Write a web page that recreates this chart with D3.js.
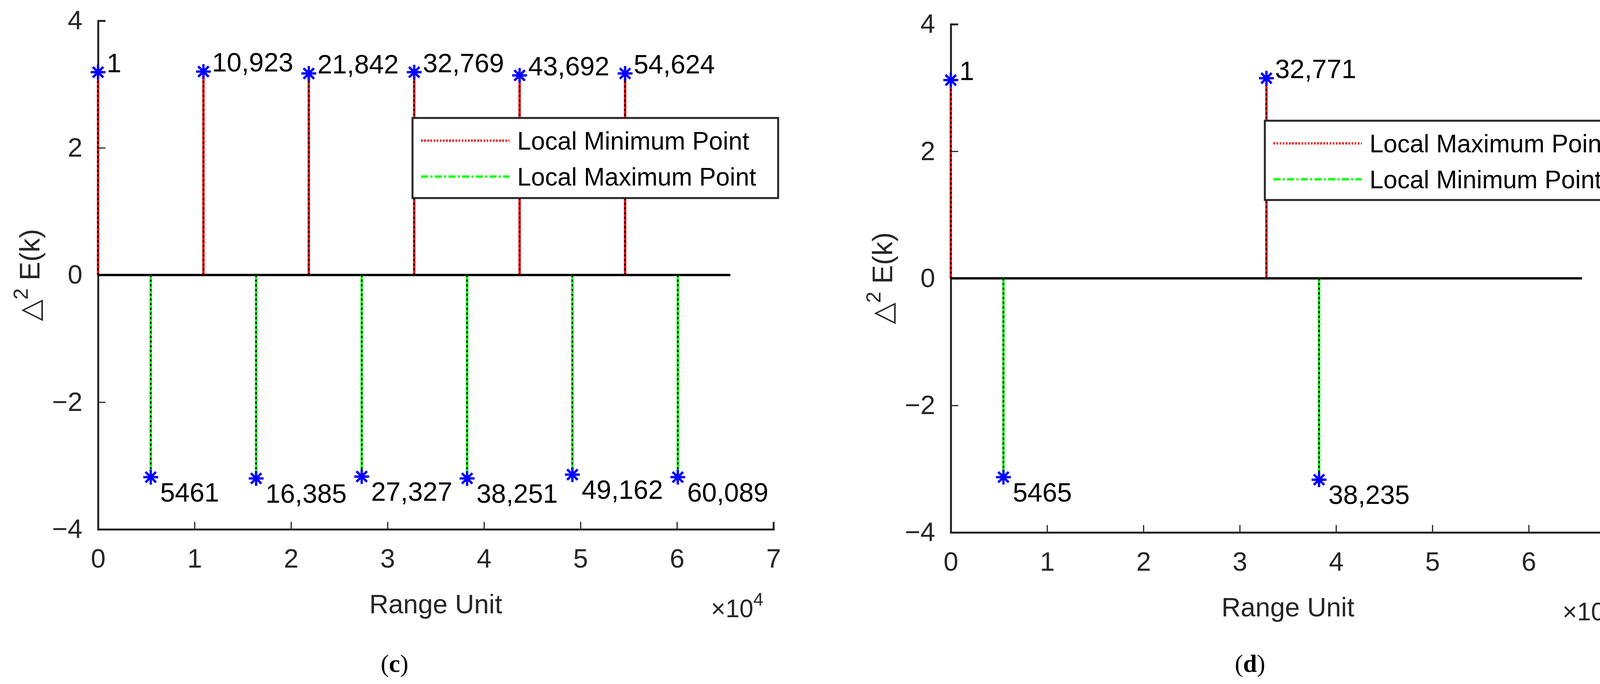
<!DOCTYPE html>
<html>
<head>
<meta charset="utf-8">
<script src="https://cdn.jsdelivr.net/npm/d3@7/dist/d3.min.js"></script>
<style>
  html, body { margin: 0; padding: 0; background: #fff; overflow: hidden; }
  svg { display: block; }
  text { font-family: "Liberation Sans", Arial, sans-serif; }
</style>
</head>
<body>
<svg id="chart" width="4188" height="1751" viewBox="0 0 4188 1751"></svg>
<script>
// panel (c)
var cPeakX = [1, 10923, 21842, 32769, 43692, 54624];
var cPeakY = [3.19, 3.2, 3.17, 3.19, 3.14, 3.17];
var cValleyX = [5461, 16385, 27327, 38251, 49162, 60089];
var cValleyY = [-3.18, -3.2, -3.17, -3.2, -3.14, -3.18];
var cLegend = ["Local Minimum Point", "Local Maximum Point"];

// panel (d)
var dPeakX = [1, 32771];
var dPeakY = [3.12, 3.15];
var dValleyX = [5465, 38235];
var dValleyY = [-3.13, -3.17];
var dLegend = ["Local Maximum Point", "Local Minimum Point"];

var xTicks = [0, 1, 2, 3, 4, 5, 6, 7];
var yTicks = [-4, -2, 0, 2, 4];
var baseEnd = 65536;

var svg = d3.select("#chart");
var fmt = d3.format(",");
function label(v) { return v < 10000 ? String(v) : fmt(v); }

function drawPanel(opt) {
    var x = d3.scaleLinear().domain([0, 7e4]).range([opt.left, opt.right]);
    var y = d3.scaleLinear().domain([-4, 4]).range([opt.bottom, opt.top]);
    var g = svg.append("g");

    // axes
    var yAxis = d3.axisLeft(y).tickValues(yTicks).tickSize(-19).tickPadding(40)
        .tickFormat(function(d) { return d < 0 ? "\u2212" + (-d) : d; });
    var xAxis = d3.axisBottom(x).tickValues(xTicks.map(function(d) { return d * 1e4; }))
        .tickSize(-19).tickPadding(50).tickFormat(function(d) { return d / 1e4; });
    [[yAxis, "translate(" + opt.left + ",0)"], [xAxis, "translate(0," + opt.bottom + ")"]].forEach(function(a) {
        var ax = g.append("g").attr("transform", a[1]).call(a[0]);
        ax.select(".domain").attr("stroke", "#262626").attr("stroke-width", 5);
        ax.selectAll(".tick line").attr("stroke", "#262626").attr("stroke-width", 3);
        ax.selectAll(".tick text").attr("fill", "#262626").style("font-size", "68px")
            .style("font-family", "Liberation Sans, Arial, sans-serif");
    });

    // baseline
    g.append("line").attr("x1", x(0)).attr("x2", x(baseEnd))
        .attr("y1", y(0)).attr("y2", y(0)).attr("stroke", "#000").attr("stroke-width", 6);

    function stems(xs, ys, color) {
        xs.forEach(function(v, i) {
            g.append("line").attr("x1", x(v)).attr("x2", x(v)).attr("y1", y(0)).attr("y2", y(ys[i]))
                .attr("stroke", color).attr("stroke-width", 6);
            g.append("line").attr("x1", x(v)).attr("x2", x(v)).attr("y1", y(0)).attr("y2", y(ys[i]))
                .attr("stroke", "#000").attr("stroke-width", 4).attr("stroke-dasharray", "5,7");
        });
    }
    stems(opt.peakX, opt.peakY, "#ff0000");
    stems(opt.valleyX, opt.valleyY, "#00ff00");

    // asterisk markers
    function marks(xs, ys) {
        xs.forEach(function(v, i) {
            var m = g.append("g").attr("transform", "translate(" + x(v) + "," + y(ys[i]) + ")");
            [0, 45, 90, 135].forEach(function(a) {
                m.append("line").attr("x1", -19).attr("x2", 19).attr("y1", 0).attr("y2", 0)
                    .attr("transform", "rotate(" + a + ")")
                    .attr("stroke", "#0000ff").attr("stroke-width", 6);
            });
        });
    }
    marks(opt.peakX, opt.peakY);
    marks(opt.valleyX, opt.valleyY);

    opt.peakX.forEach(function(v, i) {
        g.append("text").attr("x", x(v) + 22).attr("y", y(opt.peakY[i]))
            .style("font-size", "68px").text(label(v));
    });
    opt.valleyX.forEach(function(v, i) {
        g.append("text").attr("x", x(v) + 24).attr("y", y(opt.valleyY[i]) + 62)
            .style("font-size", "68px").text(label(v));
    });

    // legend
    var L = opt.legend;
    var lg = g.append("g");
    lg.append("rect").attr("x", L.x).attr("y", L.y).attr("width", L.w).attr("height", L.h)
        .attr("fill", "#fff").attr("stroke", "#262626").attr("stroke-width", 5);
    var rowY = [L.y + 58, L.y + 150];
    var styles = [["#ff0000", "4,4"], ["#00ff00", "18,6,5,6"]];
    opt.legendText.forEach(function(t, i) {
        var col = styles[i];
        lg.append("line").attr("x1", L.x + 22).attr("x2", L.x + 248)
            .attr("y1", rowY[i]).attr("y2", rowY[i])
            .attr("stroke", col[0]).attr("stroke-width", 6).attr("stroke-dasharray", col[1]);
        lg.append("text").attr("x", L.x + 268).attr("y", rowY[i] + 23)
            .style("font-size", "64px").text(t);
    });

    // axis labels
    g.append("text").attr("x", (opt.left + opt.right) / 2).attr("y", opt.bottom + 215)
        .attr("text-anchor", "middle").attr("fill", "#262626").style("font-size", "68px").text("Range Unit");
    var ex = g.append("text").attr("x", opt.right - 160).attr("y", opt.bottom + 225)
        .attr("fill", "#262626").style("font-size", "64px");
    ex.append("tspan").text("\u00d710");
    ex.append("tspan").attr("dy", -30).style("font-size", "46px").text("4");

    var yl = g.append("text")
        .attr("transform", "translate(" + (opt.left - 150) + "," + (opt.top + opt.bottom) / 2 + ") rotate(-90)")
        .attr("text-anchor", "middle").attr("fill", "#262626").style("font-size", "72px");
    yl.append("tspan").text("\u25b3");
    yl.append("tspan").attr("dy", -30).style("font-size", "52px").text("2");
    yl.append("tspan").attr("dy", 30).text(" E(k)");

    g.append("text").attr("x", opt.capX).attr("y", 1720).attr("text-anchor", "middle")
        .style("font-family", "Liberation Serif, serif").style("font-size", "64px")
        .html("(<tspan font-weight='bold'>" + opt.cap + "</tspan>)");
}

drawPanel({
    left: 251, right: 1980, top: 53, bottom: 1355,
    peakX: cPeakX, peakY: cPeakY, valleyX: cValleyX, valleyY: cValleyY,
    legend: { x: 1056, y: 302, w: 936, h: 205 },
    legendText: cLegend, cap: "c", capX: 1010
});
drawPanel({
    left: 2434, right: 4160, top: 62, bottom: 1363,
    peakX: dPeakX, peakY: dPeakY, valleyX: dValleyX, valleyY: dValleyY,
    legend: { x: 3238, y: 309, w: 925, h: 203 },
    legendText: dLegend, cap: "d", capX: 3200
});
</script>
</body>
</html>
